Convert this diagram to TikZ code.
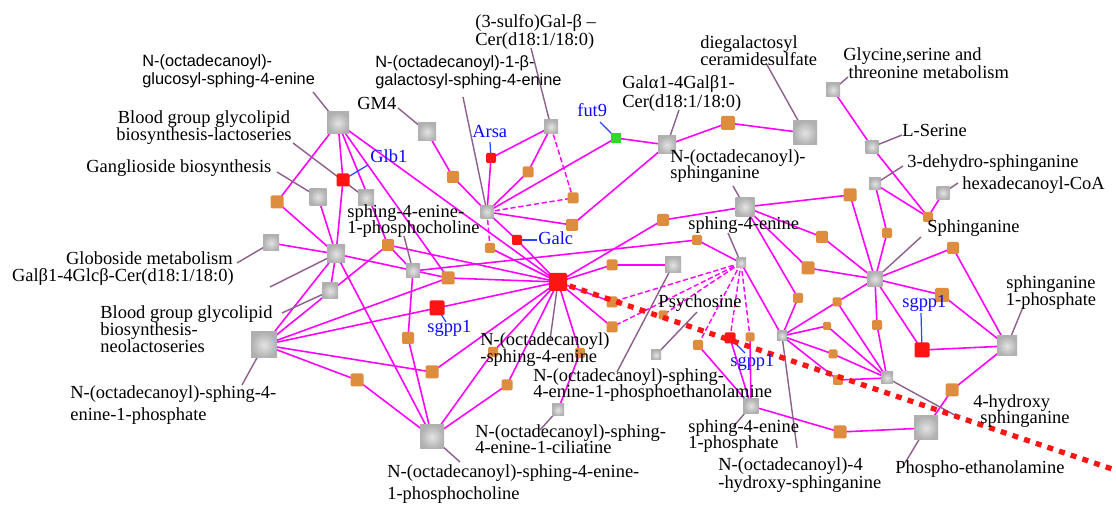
\documentclass[tikz,border=0pt]{standalone}
\usepackage{fontspec}
\setmainfont{Liberation Serif}
\newfontfamily\labsans{Liberation Sans}
\usetikzlibrary{backgrounds}
\definecolor{magc}{RGB}{255,0,255}
\definecolor{orc}{RGB}{222,140,62}
\definecolor{rdc}{RGB}{255,20,20}
\definecolor{grc}{RGB}{40,220,40}
\definecolor{puc}{RGB}{140,95,140}
\definecolor{blc}{RGB}{40,70,255}
\definecolor{ltc}{RGB}{10,10,255}
\begin{document}
\begin{tikzpicture}[x=0.02cm,y=-0.02cm,
  gn/.style={rectangle,inner sep=0pt,minimum size={#1*0.02cm},inner color=gray!22,outer color=gray!62},
  on/.style={rectangle,inner sep=0pt,minimum size={#1*0.02cm},fill=orc,rounded corners=0.8pt},
  rn/.style={rectangle,inner sep=0pt,minimum size={#1*0.02cm},fill=rdc,rounded corners=0.8pt},
  gnn/.style={rectangle,inner sep=0pt,minimum size={#1*0.02cm},fill=grc},
  ed/.style={magc,line width=0.9pt},
  ded/.style={magc,line width=0.8pt,dash pattern=on 3pt off 1.5pt},
  con/.style={puc,line width=0.8pt},
  bcon/.style={blc,line width=0.7pt},
  lab/.style={font={\fontsize{10.5}{#1}\selectfont\lineskiplimit=-20pt\relax},inner sep=0pt,align=left,anchor=north west},
  lab/.default=9.8,
  labc/.style={lab=#1,align=center,anchor=north},
  labc/.default=9.8,
  lone/.style={font=\fontsize{10.5}{10}\selectfont,inner sep=0pt,anchor=base west},
  sanslab/.style={font={\labsans\fontsize{9.3}{10.2}\selectfont\lineskiplimit=-20pt\relax},inner sep=0pt,align=left,anchor=north west},
  blab/.style={lone,text=ltc}]
\path[use as bounding box] (0,0) rectangle (1116,506);

% gray compound nodes
\node[gn=22] (A) at (338,123) {};
\node[gn=18] (GM) at (427,132) {};
\node[gn=14] (SU) at (551,127) {};
\node[gn=18] (GA) at (667,145) {};
\node[gn=24] (DG) at (805,133) {};
\node[gn=14] (GL) at (833,90) {};
\node[gn=13] (LS) at (872,147) {};
\node[gn=12] (DH) at (875,184) {};
\node[gn=13] (HX) at (943,193) {};
\node[gn=19] (SH) at (745,207) {};
\node[gn=10] (S4) at (741,263) {};
\node[gn=16] (P1) at (673,265) {};
\node[gn=13] (H2) at (487,212) {};
\node[gn=18] (H1) at (336,254) {};
\node[gn=16] (GB) at (271,243) {};
\node[gn=17] (GG) at (318,197) {};
\node[gn=16] (GLc) at (366,198) {};
\node[gn=16] (GN) at (330,291) {};
\node[gn=26] (SP) at (264,345) {};
\node[gn=14] (PC) at (413,271) {};
\node[gn=24] (PB) at (432,437) {};
\node[gn=12] (CI) at (558,410) {};
\node[gn=10] (PS) at (656,355) {};
\node[gn=15] (S1) at (751,406) {};
\node[gn=10] (HY) at (782,336) {};
\node[gn=12] (H4) at (887,378) {};
\node[gn=20] (SN) at (1007,346) {};
\node[gn=24] (PO) at (926,428) {};
\node[gn=15] (HS) at (875,279) {};
% enzymes
\node[rn=18] (C) at (558,282) {};
\node[rn=13] (RG) at (343,180) {};
\node[rn=10] (RA) at (491,158) {};
\node[rn=10] (RC) at (517,240) {};
\node[rn=15] (R1) at (437,308) {};
\node[rn=11] (R2) at (730,338) {};
\node[rn=15] (R3) at (922,350) {};
\node[gnn=10] (F) at (616,138) {};
% reactions
\node[on=13] (o1) at (277,202) {};
\node[on=12] (o2) at (453,177) {};
\node[on=11] (o3) at (528,172) {};
\node[on=11] (o4) at (573,198) {};
\node[on=12] (o5) at (572,225) {};
\node[on=10] (o6) at (490,248) {};
\node[on=12] (o7) at (388,245) {};
\node[on=13] (o8) at (448,278) {};
\node[on=12] (o9) at (408,338) {};
\node[on=13] (o10) at (432,372) {};
\node[on=13] (o11) at (357,380) {};
\node[on=11] (o12) at (507,385) {};
\node[on=10] (o13) at (493,352) {};
\node[on=10] (o14) at (580,353) {};
\node[on=11] (o15) at (612,265) {};
\node[on=11] (o16) at (612,302) {};
\node[on=11] (o17) at (612,327) {};
\node[on=12] (o18) at (663,220) {};
\node[on=10] (o19) at (697,240) {};
\node[on=9] (o20) at (663,315) {};
\node[on=10] (o21) at (698,345) {};
\node[on=9] (o22) at (750,337) {};
\node[on=14] (o23) at (728,123) {};
\node[on=13] (o24) at (850,195) {};
\node[on=12] (o25) at (822,237) {};
\node[on=13] (o26) at (808,268) {};
\node[on=10] (o27) at (798,298) {};
\node[on=9] (o28) at (837,302) {};
\node[on=8] (o29) at (827,326) {};
\node[on=9] (o30) at (833,354) {};
\node[on=10] (o31) at (838,380) {};
\node[on=13] (o32) at (840,432) {};
\node[on=10] (o33) at (887,233) {};
\node[on=10] (o34) at (928,217) {};
\node[on=12] (o35) at (953,248) {};
\node[on=14] (o36) at (942,295) {};
\node[on=10] (o37) at (877,325) {};
\node[on=13] (o38) at (952,390) {};

% label-side ends of connectors
\coordinate (cA) at (313,92);
\coordinate (cGLc) at (293,143);
\coordinate (cGG) at (277,172);
\coordinate (cGB) at (237,263);
\coordinate (cH1) at (270,287);
\coordinate (cGN) at (282,313);
\coordinate (cSP) at (242,385);
\coordinate (cPB) at (460,462);
\coordinate (cCI) at (540,430);
\coordinate (cP1) at (617,372);
\coordinate (cC) at (550,340);
\coordinate (cPS) at (697,312);
\coordinate (cS1) at (733,427);
\coordinate (cHY) at (797,448);
\coordinate (cPO) at (905,463);
\coordinate (cH4) at (960,418);
\coordinate (cSN) at (1023,307);
\coordinate (cHS) at (921,237);
\coordinate (cHX) at (958,183);
\coordinate (cDH) at (903,166);
\coordinate (cLS) at (902,135);
\coordinate (cGL) at (848,77);
\coordinate (cDG) at (766,63);
\coordinate (cGA) at (679,110);
\coordinate (cSH) at (733,186);
\coordinate (cS4) at (728,233);
\coordinate (cSU) at (531,48);
\coordinate (cH2) at (463,97);
\coordinate (cGM) at (398,108);
\coordinate (cPC) at (404,236);
\coordinate (bRG) at (368,165);
\coordinate (bRA) at (490,142);
\coordinate (bF) at (600,122);
\coordinate (bRC) at (537,240);
\coordinate (bR1) at (446,322);
\coordinate (bR2) at (745,353);
\coordinate (bR3) at (921,313);
\coordinate (redend) at (1124,473);

\begin{scope}[on background layer]
\foreach \a/\b in {A/o1,A/RG,A/o7,A/o8,A/C,o1/H1,GB/H1,RG/H1,GG/H1,GN/H1,H1/o8,H1/PB,
  SP/H1,SP/o7,SP/o8,SP/R1,SP/o10,SP/o11,PB/o11,PB/o9,PB/o12,PB/o13,o9/PC,PC/o7,PC/o19,
  o7/C,o8/C,R1/C,o10/C,o12/C,o13/C,o14/C,CI/o14,
  H2/o2,GM/o2,H2/o3,H2/RA,H2/o5,H2/RC,RC/C,H2/F,o6/C,RA/SU,SU/o3,o5/GA,F/GA,GA/o23,o23/DG,
  C/o15,o15/P1,C/o16,C/o17,C/o18,o18/SH,SH/o24,SH/o25,SH/o26,SH/o27,o24/HS,o25/HS,o26/HS,
  S4/o19,S4/HY,S1/o21,S1/R2,S1/o22,S1/o32,o32/PO,
  HY/o27,HY/o28,HY/o29,HY/o30,HY/o31,H4/o29,H4/o30,H4/o31,H4/o37,H4/o28,
  HS/o33,HS/o35,HS/o36,HS/o37,HS/R3,HS/o28,o33/DH,o34/DH,o34/HX,o34/LS,GL/LS,
  o35/SN,o36/SN,R3/SN,SN/o38,o38/PO}
  \draw[ed] (\a.center) -- (\b.center);
\foreach \a/\b in {SU/o4,H2/o4,H2/o6,S4/o16,S4/o17,S4/o20,S4/o21,S4/R2,S4/o22}
  \draw[ded] (\a.center) -- (\b.center);
\foreach \a/\b in {cA/A,cGLc/GLc,cGG/GG,cGB/GB,cH1/H1,cGN/GN,cSP/SP,cPB/PB,cCI/CI,cP1/P1,cC/C,
  cPS/PS,cS1/S1,cHY/HY,cPO/PO,cH4/H4,cSN/SN,cHS/HS,cHX/HX,cDH/DH,cLS/LS,cGL/GL,cDG/DG,cGA/GA,
  cSH/SH,cS4/S4,cSU/SU,cH2/H2,cGM/GM,cPC/PC}
  \draw[con] (\a) -- (\b.center);
\foreach \a/\b in {bRG/RG,bRA/RA,bF/F,bRC/RC,bR1/R1,bR2/R2,bR3/R3}
  \draw[bcon] (\a) -- (\b.center);
\end{scope}

\draw[rdc,line width=3pt,dash pattern=on 3.4pt off 3.6pt] (C.center) -- (redend);

% labels
\node[sanslab] (LA) at (142,54) {N-(octadecanoyl)-\\glucosyl-sphing-4-enine};
\node[sanslab] (LH2) at (375,55) {N-(octadecanoyl)-1-β-\\galactosyl-sphing-4-enine};
\node[labc] (LGLc) at (204,110) {Blood group glycolipid\\biosynthesis-lactoseries};
\node[lone] (LGG) at (86,173) {Ganglioside biosynthesis};
\node[lone,anchor=base east] (LGB) at (233,265) {Globoside metabolism};
\node[lone,anchor=base east] (LH1) at (234,282) {Galβ1-4Glcβ-Cer(d18:1/18:0)};
\node[lab] (LGN) at (100,305) {Blood group glycolipid\\biosynthesis-\\neolactoseries};
\node[lab=12.5] (LSP) at (70,385) {N-(octadecanoyl)-sphing-4-\\enine-1-phosphate};
\node[lab=13] (LPB) at (387,464) {N-(octadecanoyl)-sphing-4-enine-\\1-phosphocholine};
\node[lab=9.2] (LCI) at (475,424) {N-(octadecanoyl)-sphing-\\4-enine-1-ciliatine};
\node[lab=9.2] (LP1) at (533,368) {N-(octadecanoyl)-sphing-\\4-enine-1-phosphoethanolamine};
\node[lab=9.7] (LC) at (480,332) {N-(octadecanoyl)\\-sphing-4-enine};
\node[lone,anchor=base] (LPS) at (700,308) {Psychosine};
\node[lab=9.3] (LS1) at (688,419) {sphing-4-enine\\1-phosphate};
\node[lab=10.2] (LHY) at (718,457) {N-(octadecanoyl)-4\\-hydroxy-sphinganine};
\node[lone] (LPO) at (895,474) {Phospho-ethanolamine};
\node[lab=9.3] (LH4) at (973,394) {4-hydroxy\\\hspace*{4pt}sphinganine};
\node[labc=9.7] (LSN) at (1051,275) {sphinganine\\1-phosphate};
\node[lone] (LHS) at (927,233) {Sphinganine};
\node[lone] (LHX) at (962,190) {hexadecanoyl-CoA};
\node[lone] (LDH) at (907,168) {3-dehydro-sphinganine};
\node[lone] (LLS) at (902,137) {L-Serine};
\node[lab=10.2] (LGL) at (843,47) {Glycine,serine and\\\hspace*{3pt}threonine metabolism};
\node[lab=9.7] (LDG) at (700,35) {diegalactosyl\\ceramidesulfate};
\node[lab=10.8] (LGA) at (622,75) {Galα1-4Galβ1-\\Cer(d18:1/18:0)};
\node[lab=9.2] (LSH) at (670,149) {N-(octadecanoyl)-\\sphinganine};
\node[lone] (LS4) at (688,230) {sphing-4-enine};
\node[lab=10.2] (LSU) at (475,14) {(3-sulfo)Gal-β –\\Cer(d18:1/18:0)};
\node[lone] (LGM) at (357,110) {GM4};
\node[lab=9.2] (LPC) at (347,204) {sphing-4-enine-\\1-phosphocholine};
\node[blab] (LRG) at (370,163) {Glb1};
\node[blab] (LRA) at (472,138) {Arsa};
\node[blab] (LF) at (577,117) {fut9};
\node[blab] (LRC) at (538,245) {Galc};
\node[blab] (LR1) at (427,333) {sgpp1};
\node[blab] (LR2) at (730,367) {sgpp1};
\node[blab] (LR3) at (902,308) {sgpp1};
\end{tikzpicture}
\end{document}
